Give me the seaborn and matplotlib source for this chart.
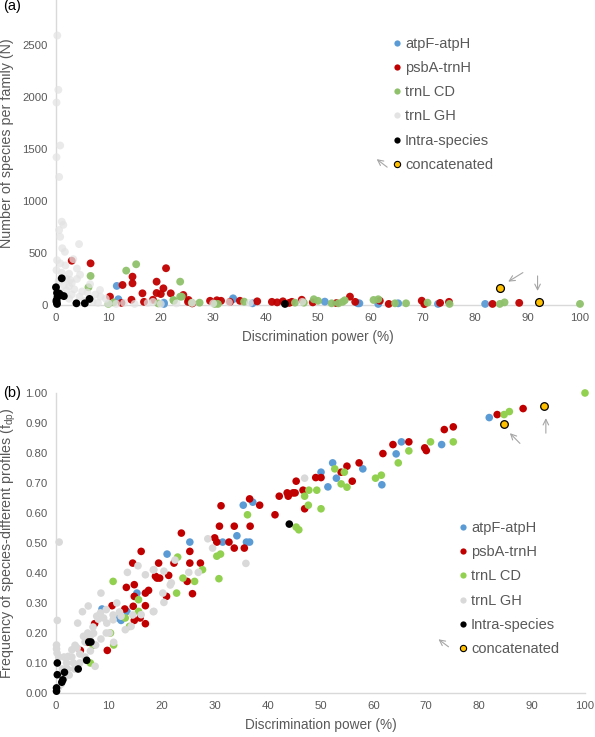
import matplotlib
matplotlib.use("Agg")
import matplotlib.pyplot as plt
import seaborn as sns
import pandas as pd
from matplotlib.lines import Line2D

# ---- panel (a): discrimination power vs number of species per family
a_atp_dp = [11.6, 11.9, 20.6, 20.6, 33.8, 33.8, 37.5, 51.3, 57.6, 57.9, 61.5, 65.3, 72.9, 81.9]
a_atp_n = [183, 55, 10, 22, 64, 55, 16, 32, 16, 16, 10, 16, 10, 10]

a_psb_dp = [3.0, 6.6, 14.6, 14.6, 12.7, 19.2, 21.0, 20.5, 19.2, 20.0, 16.5, 21.9, 10.3, 14.4, 24.3,
            25.3, 25.2, 29.4, 30.7, 33.2, 35.1, 38.4, 41.2, 42.2, 43.3, 45.0, 46.9, 56.1, 57.1, 61.8,
            63.5, 69.8, 70.3, 73.3, 75.0, 83.3, 88.4, 12.5, 16.8, 18.5, 26.0, 31.5, 44.5, 49.0, 53.5]
a_psb_n = [425, 400, 272, 208, 192, 224, 353, 160, 115, 105, 112, 112, 80, 50, 96,
           48, 30, 40, 45, 30, 40, 35, 30, 25, 35, 30, 50, 80, 30, 40,
           10, 41, 8, 20, 30, 10, 20, 20, 30, 50, 15, 40, 20, 25, 18]

a_cd_dp = [6.6, 6.2, 13.4, 15.3, 23.7, 23.7, 22.5, 10.0, 22.4, 24.0, 25.9, 27.4, 30.3, 30.9, 35.9,
           45.6, 47.3, 49.2, 50.0, 52.6, 53.9, 54.7, 55.1, 60.6, 61.5, 64.7, 66.8, 70.9, 75.1, 84.7,
           85.6, 100.0, 11.0, 19.5]
a_cd_n = [279, 170, 330, 391, 224, 80, 40, 10, 48, 80, 22, 22, 10, 10, 32,
          22, 22, 55, 40, 16, 16, 30, 45, 48, 55, 16, 16, 22, 10, 10,
          25, 10, 25, 15]

a_gh_dp = [0.25, 0.45, 0.1, 0.8, 0.1, 0.6, 1.1, 1.4, 0.6, 0.8,
           1.2, 1.7, 4.4, 0.2, 0.8, 0.1, 1.1, 4.6, 2.0, 0.5,
           1.5, 2.5, 3.5, 5.0, 6.0, 7.5, 8.5, 9.5, 2.5, 3.0,
           4.5, 5.5, 7.0, 8.0, 10.0, 11.5, 13.0, 15.0, 17.5, 18.5,
           20.0, 23.0, 26.0, 30.0, 33.0, 37.0, 47.0, 1.0, 2.0, 3.0,
           4.0, 6.5, 8.4, 4.0, 2.5, 1.8, 2.7, 3.3, 0.3, 0.6]
a_gh_n = [2589, 2067, 1945, 1532, 1420, 1230, 800, 770, 720, 655,
          545, 510, 585, 430, 400, 335, 310, 290, 250, 230,
          190, 180, 150, 130, 120, 100, 80, 60, 60, 100,
          80, 40, 30, 20, 15, 10, 20, 10, 20, 30,
          10, 15, 20, 15, 25, 20, 30, 120, 140, 210,
          250, 200, 144, 350, 300, 380, 240, 440, 60, 90]

a_intra_dp = [0.0, 1.1, 0.2, 0.6, 0.3, 1.5, 0.1, 0.1, 3.9, 5.5, 6.4, 43.7, 0.9, 0.2]
a_intra_n = [170, 256, 115, 110, 80, 85, 45, 30, 16, 16, 58, 10, 95, 10]

a_cat_dp = [84.7, 92.2]
a_cat_n = [167, 32]

# ---- panel (b): discrimination power vs frequency of species-different profiles
b_atp_dp = [25.3, 31.5, 35.4, 37.2, 36.6, 36.0, 34.2, 21.0, 15.3, 13.4, 11.8, 12.3, 8.7, 50.1, 51.4,
            52.3, 53.0, 58.0, 61.6, 64.3, 65.3, 72.9, 81.9]
b_atp_f = [0.503, 0.503, 0.626, 0.636, 0.503, 0.503, 0.524, 0.463, 0.333, 0.272, 0.25, 0.242, 0.28, 0.736, 0.687,
           0.767, 0.716, 0.747, 0.694, 0.797, 0.837, 0.828, 0.918]

b_psb_dp = [45.4, 42.2, 43.7, 43.9, 45.2, 41.4, 38.5, 36.6, 36.7, 33.7,
            31.2, 30.9, 30.0, 30.4, 32.7, 33.7, 35.6, 27.3, 25.3, 25.3,
            23.7, 25.8, 24.8, 22.3, 21.3, 20.9, 19.4, 19.1, 19.6, 18.8,
            16.1, 14.5, 14.8, 14.8, 13.3, 14.6, 13.0, 16.9, 17.5, 16.9,
            14.8, 15.9, 16.9, 10.6, 7.3, 9.7, 6.0, 4.6, 44.8, 46.7,
            47.0, 49.1, 50.1, 53.9, 55.0, 56.0, 57.3, 61.8, 63.7, 66.7,
            69.7, 70.0, 73.4, 75.1, 83.4, 88.3]
b_psb_f = [0.706, 0.656, 0.667, 0.656, 0.667, 0.594, 0.626, 0.647, 0.556, 0.556,
           0.624, 0.556, 0.517, 0.503, 0.503, 0.483, 0.483, 0.433, 0.433, 0.472,
           0.533, 0.331, 0.372, 0.433, 0.392, 0.322, 0.433, 0.383, 0.383, 0.389,
           0.472, 0.433, 0.361, 0.322, 0.352, 0.289, 0.280, 0.291, 0.342, 0.333,
           0.242, 0.25, 0.231, 0.291, 0.231, 0.142, 0.169, 0.142, 0.667, 0.676,
           0.614, 0.718, 0.718, 0.736, 0.756, 0.706, 0.767, 0.798, 0.828, 0.837,
           0.817, 0.808, 0.878, 0.887, 0.928, 0.948]

b_cd_dp = [36.2, 45.4, 45.9, 30.4, 31.1, 30.8, 23.0, 24.0, 26.2, 27.7,
           22.8, 10.8, 15.6, 15.6, 13.9, 10.3, 10.9, 7.0, 6.5, 13.1,
           47.0, 47.8, 47.7, 49.3, 50.1, 52.7, 54.5, 53.9, 55.0, 60.4,
           61.5, 64.7, 66.7, 70.8, 75.1, 84.7, 85.7, 100.0]
b_cd_f = [0.594, 0.553, 0.544, 0.456, 0.463, 0.381, 0.453, 0.383, 0.372, 0.411,
          0.333, 0.372, 0.311, 0.272, 0.222, 0.2, 0.16, 0.159, 0.1, 0.25,
          0.656, 0.676, 0.626, 0.676, 0.614, 0.747, 0.736, 0.697, 0.686, 0.716,
          0.726, 0.767, 0.807, 0.837, 0.837, 0.928, 0.938, 1.0]

b_gh_dp = [0.1, 0.1, 0.2, 0.5, 1.5, 2.3, 3.0, 3.6, 4.1, 5.0,
           6.1, 5.2, 4.5, 3.3, 2.2, 1.5, 2.5, 3.5, 4.5, 5.5,
           6.5, 7.5, 8.5, 9.5, 7.4, 6.0, 7.0, 8.0, 8.5, 7.7,
           8.4, 9.0, 9.6, 10.1, 10.9, 10.8, 9.5, 10.8, 12.3, 13.1,
           14.2, 16.1, 13.5, 15.5, 16.9, 18.5, 18.5, 20.2, 20.4, 20.4,
           21.8, 21.6, 22.5, 18.4, 18.4, 25.1, 26.9, 28.7, 29.6, 35.9,
           47.0, 1.0, 0.5, 1.2, 2.0, 3.0, 4.0, 5.5, 6.5, 7.1,
           0.6, 0.25, 11.5, 12.0, 14.5]
b_gh_f = [0.16, 0.147, 0.133, 0.12, 0.12, 0.122, 0.144, 0.159, 0.233, 0.271,
          0.29, 0.189, 0.13, 0.1, 0.08, 0.05, 0.06, 0.08, 0.1, 0.12,
          0.14, 0.16, 0.18, 0.2, 0.089, 0.2, 0.22, 0.246, 0.333, 0.256,
          0.267, 0.25, 0.233, 0.2, 0.169, 0.244, 0.278, 0.26, 0.256, 0.211,
          0.222, 0.261, 0.402, 0.424, 0.394, 0.411, 0.272, 0.333, 0.302, 0.406,
          0.367, 0.36, 0.443, 0.41, 0.271, 0.402, 0.402, 0.514, 0.483, 0.432,
          0.716, 0.03, 0.02, 0.08, 0.1, 0.12, 0.15, 0.17, 0.19, 0.199,
          0.503, 0.242, 0.3, 0.27, 0.26]

b_intra_dp = [44.1, 6.6, 5.8, 4.2, 0.25, 0.25, 1.6, 1.3, 1.1, 0.1, 0.1, 6.2]
b_intra_f = [0.563, 0.17, 0.109, 0.08, 0.1, 0.061, 0.069, 0.044, 0.036, 0.017, 0.006, 0.17]

b_cat_dp = [84.7, 92.2]
b_cat_f = [0.898, 0.958]

labels = ['atpF-atpH', 'psbA-trnH', 'trnL CD', 'trnL GH', 'Intra-species', 'concatenated']

sns.set_style('white')
plt.rcParams['font.family'] = ['Liberation Sans', 'DejaVu Sans']

grey_txt = '#595959'
spine_col = '#d9d9d9'
arrow_col = '#a6a6a6'

fig = plt.figure(figsize=(5.95, 7.37), dpi=100)
ax1 = fig.add_axes([0.0941, 0.5862, 0.8807, 0.4138])
ax2 = fig.add_axes([0.0941, 0.0597, 0.8891, 0.4071])


def make_df(series):
    rows = []
    for name, xs, ys in series:
        for x, y in zip(xs, ys):
            rows.append((name, x, y))
    return pd.DataFrame(rows, columns=['marker', 'dp', 'val'])


def draw(ax, df, colors, alphas, size):
    for name in labels:
        sub = df[df['marker'] == name]
        edge = 'black' if name == 'concatenated' else 'none'
        lw = 0.9 if name == 'concatenated' else 0
        sns.scatterplot(data=sub, x='dp', y='val', ax=ax, color=colors[name], s=size,
                        edgecolor=edge, linewidth=lw, alpha=alphas[name],
                        clip_on=False, zorder=3, legend=False)


def style(ax):
    sns.despine(ax=ax)
    for side in ['left', 'bottom']:
        ax.spines[side].set_color(spine_col)
        ax.spines[side].set_linewidth(1.0)
    ax.tick_params(length=0, labelsize=8.2, labelcolor=grey_txt, pad=6)
    ax.set_xlim(0, 100)
    ax.set_xticks(range(0, 101, 10))
    ax.set_xlabel('Discrimination power (%)', fontsize=9.8, color=grey_txt, labelpad=5)


def add_legend(ax, colors, anchor):
    handles = []
    for name in labels:
        edge = 'black' if name == 'concatenated' else colors[name]
        handles.append(Line2D([], [], ls='none', marker='o', markersize=4.5,
                              markerfacecolor=colors[name], markeredgecolor=edge,
                              markeredgewidth=0.8 if name == 'concatenated' else 0))
    leg = ax.legend(handles, labels, loc='upper left', bbox_to_anchor=anchor,
                    bbox_transform=fig.transFigure, frameon=False, fontsize=10.5,
                    handlelength=0.5, handletextpad=0.3, labelspacing=0.7,
                    borderpad=0, borderaxespad=0)
    for t in leg.get_texts():
        t.set_color(grey_txt)


def arrow(ax, head, tail):
    ax.annotate('', xy=head, xytext=tail,
                arrowprops=dict(arrowstyle='->', color=arrow_col, lw=0.8,
                                shrinkA=0, shrinkB=0), annotation_clip=False)


# panel (a)
cols_a = {'atpF-atpH': '#5b9bd5', 'psbA-trnH': '#c00000', 'trnL CD': '#8fc16b',
          'trnL GH': '#e3e3e3', 'Intra-species': '#000000', 'concatenated': '#ffc000'}
alpha_a = {'atpF-atpH': 0.95, 'psbA-trnH': 0.95, 'trnL CD': 0.95,
           'trnL GH': 0.75, 'Intra-species': 1.0, 'concatenated': 1.0}
df_a = make_df([('atpF-atpH', a_atp_dp, a_atp_n), ('psbA-trnH', a_psb_dp, a_psb_n),
                ('trnL CD', a_cd_dp, a_cd_n), ('trnL GH', a_gh_dp, a_gh_n),
                ('Intra-species', a_intra_dp, a_intra_n), ('concatenated', a_cat_dp, a_cat_n)])
draw(ax1, df_a, cols_a, alpha_a, 32)
style(ax1)
ax1.set_ylim(0, 2930)
ax1.set_yticks(range(0, 2501, 500))
ax1.set_ylabel('Number of species per family (N)', fontsize=10.3, color=grey_txt, labelpad=6)
ax1.yaxis.label.set_y(0.53)
add_legend(ax1, cols_a, (0.661, 0.950))
arrow(ax1, (86.3, 224), (89.1, 311))
arrow(ax1, (91.9, 135), (91.9, 279))
arrow(ax1, (61.2, 1401), (63.2, 1324))

# panel (b)
cols_b = {'atpF-atpH': '#5b9bd5', 'psbA-trnH': '#c00000', 'trnL CD': '#92d050',
          'trnL GH': '#d9d9d9', 'Intra-species': '#000000', 'concatenated': '#ffc000'}
alpha_b = {k: 1.0 for k in labels}
df_b = make_df([('atpF-atpH', b_atp_dp, b_atp_f), ('psbA-trnH', b_psb_dp, b_psb_f),
                ('trnL CD', b_cd_dp, b_cd_f), ('trnL GH', b_gh_dp, b_gh_f),
                ('Intra-species', b_intra_dp, b_intra_f), ('concatenated', b_cat_dp, b_cat_f)])
draw(ax2, df_b, cols_b, alpha_b, 30)
style(ax2)
ax2.set_ylim(0, 1.0)
ax2.set_yticks([i / 10 for i in range(11)])
ax2.set_yticklabels([f'{i / 10:.2f}' for i in range(11)])
ax2.set_ylabel('Frequency of species-different profiles (f$_{\\mathregular{dp}}$)',
               fontsize=10.3, color=grey_txt, labelpad=5)
add_legend(ax2, cols_b, (0.772, 0.293))
arrow(ax2, (85.8, 0.866), (87.7, 0.832))
arrow(ax2, (92.6, 0.916), (92.6, 0.866))
arrow(ax2, (72.3, 0.179), (74.2, 0.154))

fig.text(0.006, 0.992, '(a)', fontsize=10.5, color='#000000', va='center')
fig.text(0.006, 0.4668, '(b)', fontsize=10.5, color='#000000', va='center')

fig.savefig('out.png', dpi=100)
